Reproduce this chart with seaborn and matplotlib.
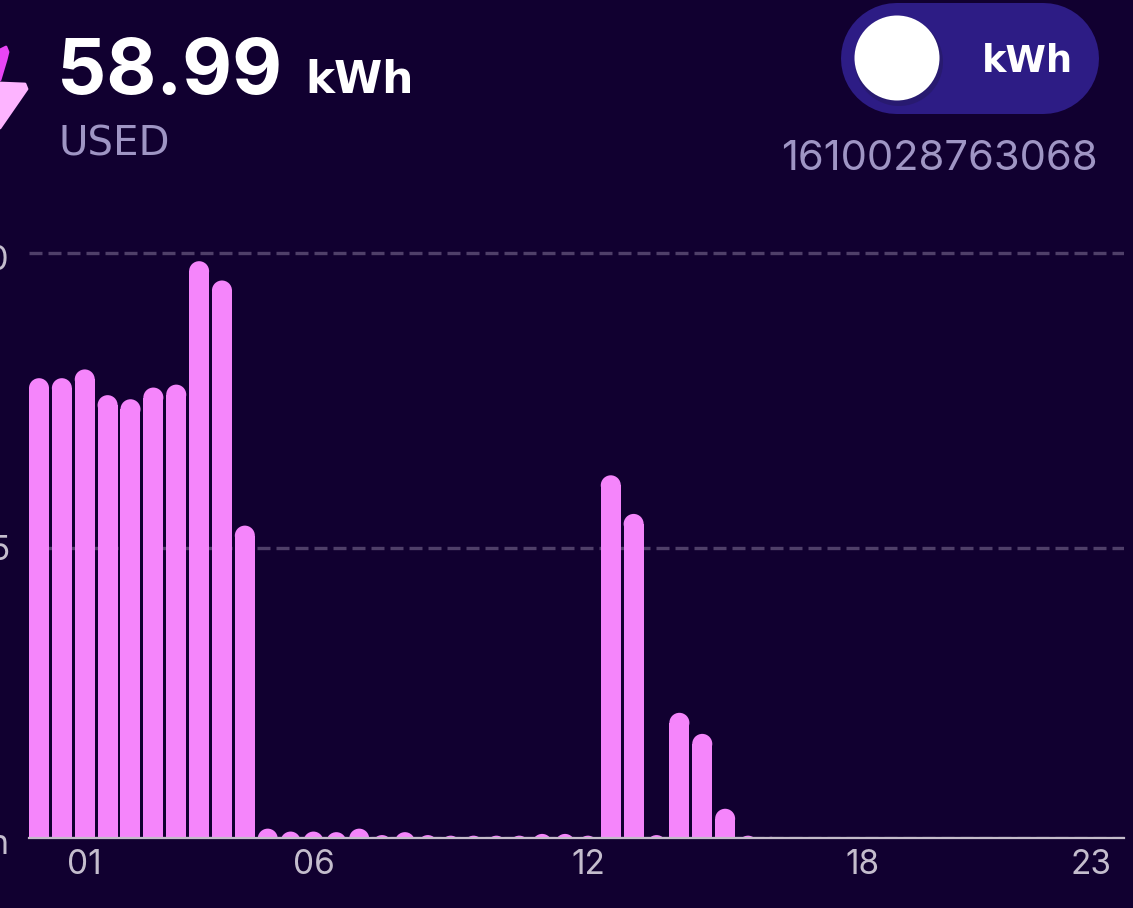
import matplotlib
matplotlib.use("Agg")
import matplotlib.pyplot as plt
from matplotlib.patches import Ellipse, Circle, Polygon
from matplotlib.transforms import Affine2D
import pandas as pd
import seaborn as sns

# half hourly usage
slots = list(range(48))
usage = [7.86, 7.86, 8.01, 7.57, 7.50, 7.70, 7.75, 9.86, 9.53, 5.34,
         0.16, 0.11, 0.11, 0.10, 0.16, 0.05, 0.10, 0.05, 0.04, 0.04,
         0.04, 0.04, 0.07, 0.07, 0.04, 6.20, 5.54, 0.05, 2.14, 1.78,
         0.50, 0.04, 0.02, 0, 0, 0, 0, 0, 0, 0,
         0, 0, 0, 0, 0, 0, 0, 0]
hour_ticks = [2, 12, 24, 36, 46]
hour_labels = ["01", "06", "12", "18", "23"]
grid_levels = [0, 4.96, 10]
grid_labels = ["kWh", "5", "10"]

total_text = "58.99"
unit_text = "kWh"
used_text = "USED"
meter_id = "1610028763068"

BG = "#110030"
BAR = "#f585fb"
GRID = "#4f3f69"
AXIS = "#c3bcc9"
MUTED = "#9f95c4"
W, H = 1133, 908

sns.set_style("dark", {"axes.facecolor": BG, "figure.facecolor": BG})
plt.rcParams["font.family"] = ["Inter", "DejaVu Sans"]

fig = plt.figure(figsize=(W / 100, H / 100), dpi=100)
ax = fig.add_axes([29 / W, (H - 838) / H, (1124 - 29) / W, (838 - 190) / H])

df = pd.DataFrame({"slot": slots, "usage": usage})
sns.barplot(data=df, x="slot", y="usage", color=BAR, saturation=1, width=0.875, ax=ax)

ax.set_xlim(-0.4375, 47.44)
ax.set_ylim(0, (838 - 190) / 58.5)

# round cap on each bar, the axes clip whatever falls below zero
cap_h = 10 / 58.5
for bar in list(ax.patches):
    x0, w, h = bar.get_x(), bar.get_width(), bar.get_height()
    bar.set_zorder(3)
    bar.set_linewidth(0)
    if h <= 0:
        continue
    bar.set_height(max(h - cap_h, 0))
    ax.add_patch(Ellipse((x0 + w / 2, h - cap_h), w, 2 * cap_h, fc=BAR, ec="none", zorder=3))

ax.set_xticks(hour_ticks)
ax.set_xticklabels(hour_labels, fontsize=24, color="#c4bdcd")
ax.set_yticks(grid_levels)
ax.set_yticklabels(grid_labels, fontsize=24, color="#c4bdcd", ha="right")
ax.tick_params(axis="x", length=0, pad=8)
ax.tick_params(axis="y", length=0, pad=14)
for label, shift in zip(ax.get_yticklabels(), [-3, 0, -4]):
    label.set_transform(label.get_transform() + Affine2D().translate(0, shift))
ax.set_xlabel("")
ax.set_ylabel("")
ax.grid(False)
ax.yaxis.grid(True, color=GRID, lw=2.4, linestyle=(0, (3.9, 1.8)), zorder=1)
ax.set_axisbelow(True)
for side in ["top", "left", "right"]:
    ax.spines[side].set_visible(False)
ax.spines["bottom"].set_color(AXIS)
ax.spines["bottom"].set_linewidth(1.6)
ax.spines["bottom"].set_zorder(4)

# header, placed in pixel coordinates
top = fig.add_axes([0, 0, 1, 1], facecolor="none", zorder=5)
top.set_xlim(0, W)
top.set_ylim(H, 0)
top.axis("off")

top.text(57, 94, total_text, fontsize=55.5, fontweight="bold", color="white", va="baseline")
top.text(305, 93, unit_text, fontsize=31.5, fontweight="bold", family="DejaVu Sans", color="white", va="baseline")
top.text(58, 155, used_text, fontsize=29, family="DejaVu Sans", color=MUTED, va="baseline")

# bolt, cut by the left edge
top.add_patch(Polygon([[0, 50], [6, 47], [8, 52], [6, 60], [0, 80]], fc="#e845f5", ec="#e845f5", lw=2, joinstyle="round"))
top.add_patch(Polygon([[0, 83], [25, 84], [27, 89], [0, 128]], fc="#fdb4ff", ec="#fdb4ff", lw=2, joinstyle="round"))

# toggle
top.plot([895.5, 1042.5], [58, 58], color="#2d1c85", lw=111 * 0.72, solid_capstyle="round")
top.add_patch(Circle((899, 62), 44, fc="#281a70", ec="none", zorder=3))
top.add_patch(Circle((897, 58), 42.5, fc="white", ec="none", zorder=4))
top.text(1073, 72, unit_text, fontsize=26.5, fontweight="bold", family="DejaVu Sans", color="white", ha="right", va="baseline")
top.text(1098, 170, meter_id, fontsize=30, color=MUTED, ha="right", va="baseline")

fig.savefig("out.png", dpi=100, facecolor=BG)
